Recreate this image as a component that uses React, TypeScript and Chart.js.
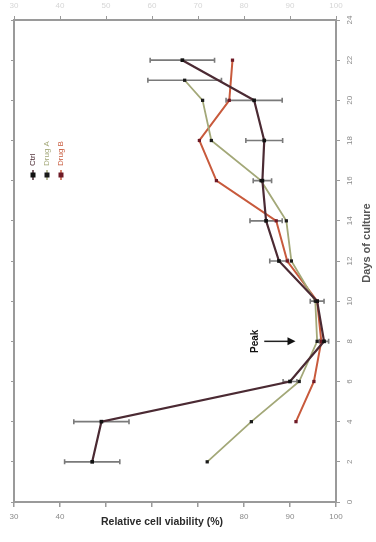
import React, { useEffect, useRef } from 'react';
import { Chart, registerables } from 'chart.js';

Chart.register(...registerables);

// ---- data ----
const dayTicks = [0, 2, 4, 6, 8, 10, 12, 14, 16, 18, 20, 22, 24];
const viabilityTicks = [30, 40, 50, 60, 70, 80, 90, 100];
const hiddenViabilityLabels = [50, 60, 70];

const seriesNames = ['Ctrl', 'Drug A', 'Drug B'];

const darkDays = [2, 4, 6, 8, 10, 12, 14, 16, 18, 20, 22];
const darkValues = [47, 49, 90, 97.4, 95.9, 87.6, 84.8, 84.0, 84.4, 82.2, 66.6];
const darkErrors = [6, 6, 1.5, 1, 1.5, 2, 3.5, 2, 4, 6.1, 7];

const greenDays = [2, 4, 6, 8, 10, 12, 14, 16, 18, 20, 21];
const greenValues = [72, 81.6, 92, 95.9, 95.5, 90.3, 89.2, 83.7, 72.9, 71, 67.1];
const greenErrors = [0, 0, 0, 0, 0, 0, 0, 0, 0, 0, 8];

const redDays = [4, 6, 8, 10, 12, 14, 16, 18, 20, 22];
const redValues = [91.3, 95.2, 96.8, 95.9, 89.4, 87, 74, 70.3, 76.8, 77.5];

const arrowLabel = 'Peak';
const arrowDay = 8;
const arrowFrom = 84.4;
const arrowTo = 91.2;
const arrowTextValue = 82.4;

const xTitle = 'Relative cell viability (%)';
const yTitle = 'Days of culture';

const colors = ['#4b2a33', '#a3a878', '#c85a3c'];
const markerColors = ['#111111', '#1a1a1a', '#6e1a26'];

const FONT = '"Liberation Sans", Arial, sans-serif';

function toPoints(days: number[], vals: number[]) {
  return days.map((d, i) => ({ x: vals[i], y: d }));
}

const errorPlugin = {
  id: 'errorBars',
  beforeDatasetsDraw(chart: any) {
    const ctx = chart.ctx;
    const xs = chart.scales.x;
    const ys = chart.scales.y;
    const sets = [
      { days: darkDays, vals: darkValues, errs: darkErrors },
      { days: greenDays, vals: greenValues, errs: greenErrors },
    ];
    ctx.save();
    ctx.strokeStyle = '#7a7a7a';
    ctx.lineWidth = 1.6;
    sets.forEach((s) => {
      s.days.forEach((d, i) => {
        const e = s.errs[i];
        if (!e) return;
        const y = ys.getPixelForValue(d);
        const x1 = xs.getPixelForValue(s.vals[i] - e);
        const x2 = xs.getPixelForValue(s.vals[i] + e);
        ctx.beginPath();
        ctx.moveTo(x1, y);
        ctx.lineTo(x2, y);
        ctx.moveTo(x1, y - 2.5);
        ctx.lineTo(x1, y + 2.5);
        ctx.moveTo(x2, y - 2.5);
        ctx.lineTo(x2, y + 2.5);
        ctx.stroke();
      });
    });
    ctx.restore();
  },
};

const decorPlugin = {
  id: 'decor',
  afterDraw(chart: any) {
    const ctx = chart.ctx;
    const xs = chart.scales.x;
    const ys = chart.scales.y;
    const area = chart.chartArea;
    ctx.save();
    // faint top labels
    ctx.fillStyle = '#d6d6d6';
    ctx.font = `8px ${FONT}`;
    ctx.textAlign = 'center';
    ctx.textBaseline = 'middle';
    viabilityTicks.forEach((v) => {
      ctx.fillText(String(v), xs.getPixelForValue(v), 6);
    });
    // right tick labels (rotated)
    ctx.fillStyle = '#8a8a8a';
    dayTicks.forEach((d) => {
      const y = ys.getPixelForValue(d);
      ctx.save();
      ctx.translate(area.right + 14, y);
      ctx.rotate(-Math.PI / 2);
      ctx.fillText(String(d), 0, 0);
      ctx.restore();
    });
    // right title
    ctx.save();
    ctx.fillStyle = '#555';
    ctx.font = `bold 11px ${FONT}`;
    ctx.translate(area.right + 31, (area.top + area.bottom) / 2 - 18);
    ctx.rotate(-Math.PI / 2);
    ctx.fillText(yTitle, 0, 0);
    ctx.restore();
    // bottom title
    ctx.fillStyle = '#2a2a2a';
    ctx.font = `bold 10.5px ${FONT}`;
    ctx.fillText(xTitle, (area.left + area.right) / 2 - 13, area.bottom + 20);

    // legend (rotated)
    seriesNames.forEach((name, i) => {
      const lx = area.left + 19 + i * 14;
      const ly = area.top + 155;
      ctx.strokeStyle = colors[i];
      ctx.lineWidth = 1.5;
      ctx.beginPath();
      ctx.moveTo(lx, ly - 5);
      ctx.lineTo(lx, ly + 5);
      ctx.stroke();
      ctx.fillStyle = markerColors[i];
      ctx.fillRect(lx - 2.5, ly - 2.5, 5, 5);
      ctx.save();
      ctx.translate(lx, ly - 9);
      ctx.rotate(-Math.PI / 2);
      ctx.fillStyle = colors[i];
      ctx.font = `8px ${FONT}`;
      ctx.textAlign = 'left';
      ctx.textBaseline = 'middle';
      ctx.fillText(name, 0, 0);
      ctx.restore();
    });

    // arrow annotation
    const ay = ys.getPixelForValue(arrowDay);
    const ax1 = xs.getPixelForValue(arrowFrom);
    const ax2 = xs.getPixelForValue(arrowTo);
    ctx.strokeStyle = '#222';
    ctx.fillStyle = '#111';
    ctx.lineWidth = 1.5;
    ctx.beginPath();
    ctx.moveTo(ax1, ay);
    ctx.lineTo(ax2 - 6, ay);
    ctx.stroke();
    ctx.beginPath();
    ctx.moveTo(ax2, ay);
    ctx.lineTo(ax2 - 8, ay - 4);
    ctx.lineTo(ax2 - 8, ay + 4);
    ctx.closePath();
    ctx.fill();
    ctx.save();
    ctx.translate(xs.getPixelForValue(arrowTextValue), ay);
    ctx.rotate(-Math.PI / 2);
    ctx.font = `bold 10px ${FONT}`;
    ctx.textAlign = 'center';
    ctx.textBaseline = 'middle';
    ctx.fillText(arrowLabel, 0, 0);
    ctx.restore();
    ctx.restore();
  },
};

export default function App() {
  const ref = useRef<HTMLCanvasElement | null>(null);
  useEffect(() => {
    document.body.style.margin = '0';
    const canvas = ref.current;
    if (!canvas) return;
    const axisColor = '#9a9a9a';
    const chart = new Chart(canvas, {
      type: 'line',
      data: {
        datasets: [
          {
            label: seriesNames[0],
            data: toPoints(darkDays, darkValues),
            borderColor: colors[0],
            backgroundColor: markerColors[0],
            borderWidth: 2.2,
            pointStyle: 'rect',
            pointRadius: 2.6,
            pointBorderWidth: 0,
            pointBackgroundColor: markerColors[0],
            tension: 0,
          },
          {
            label: seriesNames[1],
            data: toPoints(greenDays, greenValues),
            borderColor: colors[1],
            backgroundColor: markerColors[1],
            borderWidth: 1.8,
            pointStyle: 'rect',
            pointRadius: 2.3,
            pointBorderWidth: 0,
            pointBackgroundColor: markerColors[1],
            tension: 0,
          },
          {
            label: seriesNames[2],
            data: toPoints(redDays, redValues),
            borderColor: colors[2],
            backgroundColor: markerColors[2],
            borderWidth: 2,
            pointStyle: 'rect',
            pointRadius: 2.3,
            pointBorderWidth: 0,
            pointBackgroundColor: markerColors[2],
            tension: 0,
          },
        ],
      },
      options: {
        responsive: false,
        animation: false,
        layout: { padding: 0 },
        plugins: {
          legend: { display: false },
          tooltip: { enabled: false },
          title: { display: false },
        },
        scales: {
          x: {
            type: 'linear',
            position: 'bottom',
            min: viabilityTicks[0],
            max: viabilityTicks[viabilityTicks.length - 1],
            afterBuildTicks: (s: any) => {
              s.ticks = viabilityTicks.map((v) => ({ value: v }));
            },
            ticks: {
              color: '#8a8a8a',
              font: { size: 8, family: FONT },
              padding: 5,
              maxRotation: 0,
              callback: (v: any) => (hiddenViabilityLabels.includes(Number(v)) ? '' : String(v)),
            },
            grid: { drawOnChartArea: false, color: axisColor, tickLength: 5, lineWidth: 1.5 },
            border: { color: axisColor, width: 2 },
            afterFit: (s: any) => {
              s.height = 40;
            },
          },
          xTop: {
            type: 'linear',
            position: 'top',
            min: viabilityTicks[0],
            max: viabilityTicks[viabilityTicks.length - 1],
            afterBuildTicks: (s: any) => {
              s.ticks = viabilityTicks.map((v) => ({ value: v }));
            },
            ticks: { display: false },
            grid: { drawOnChartArea: false, color: axisColor, tickLength: 4 },
            border: { color: axisColor, width: 2 },
            afterFit: (s: any) => {
              s.height = 20;
            },
          },
          y: {
            type: 'linear',
            position: 'right',
            min: dayTicks[0],
            max: dayTicks[dayTicks.length - 1],
            afterBuildTicks: (s: any) => {
              s.ticks = dayTicks.map((v) => ({ value: v }));
            },
            ticks: { display: false },
            grid: { drawOnChartArea: false, color: axisColor, tickLength: 4 },
            border: { color: axisColor, width: 2 },
            afterFit: (s: any) => {
              s.width = 40;
            },
          },
          yLeft: {
            type: 'linear',
            position: 'left',
            min: dayTicks[0],
            max: dayTicks[dayTicks.length - 1],
            afterBuildTicks: (s: any) => {
              s.ticks = dayTicks.map((v) => ({ value: v }));
            },
            ticks: { display: false },
            grid: { drawOnChartArea: false, color: axisColor, tickLength: 3 },
            border: { color: axisColor, width: 2 },
            afterFit: (s: any) => {
              s.width = 14;
            },
          },
        },
      },
      plugins: [errorPlugin, decorPlugin],
    } as any);
    return () => chart.destroy();
  }, []);
  return (
    <div style={{ width: 376, height: 542, background: '#fff' }}>
      <canvas ref={ref} width={376} height={542} style={{ display: 'block' }} />
    </div>
  );
}
